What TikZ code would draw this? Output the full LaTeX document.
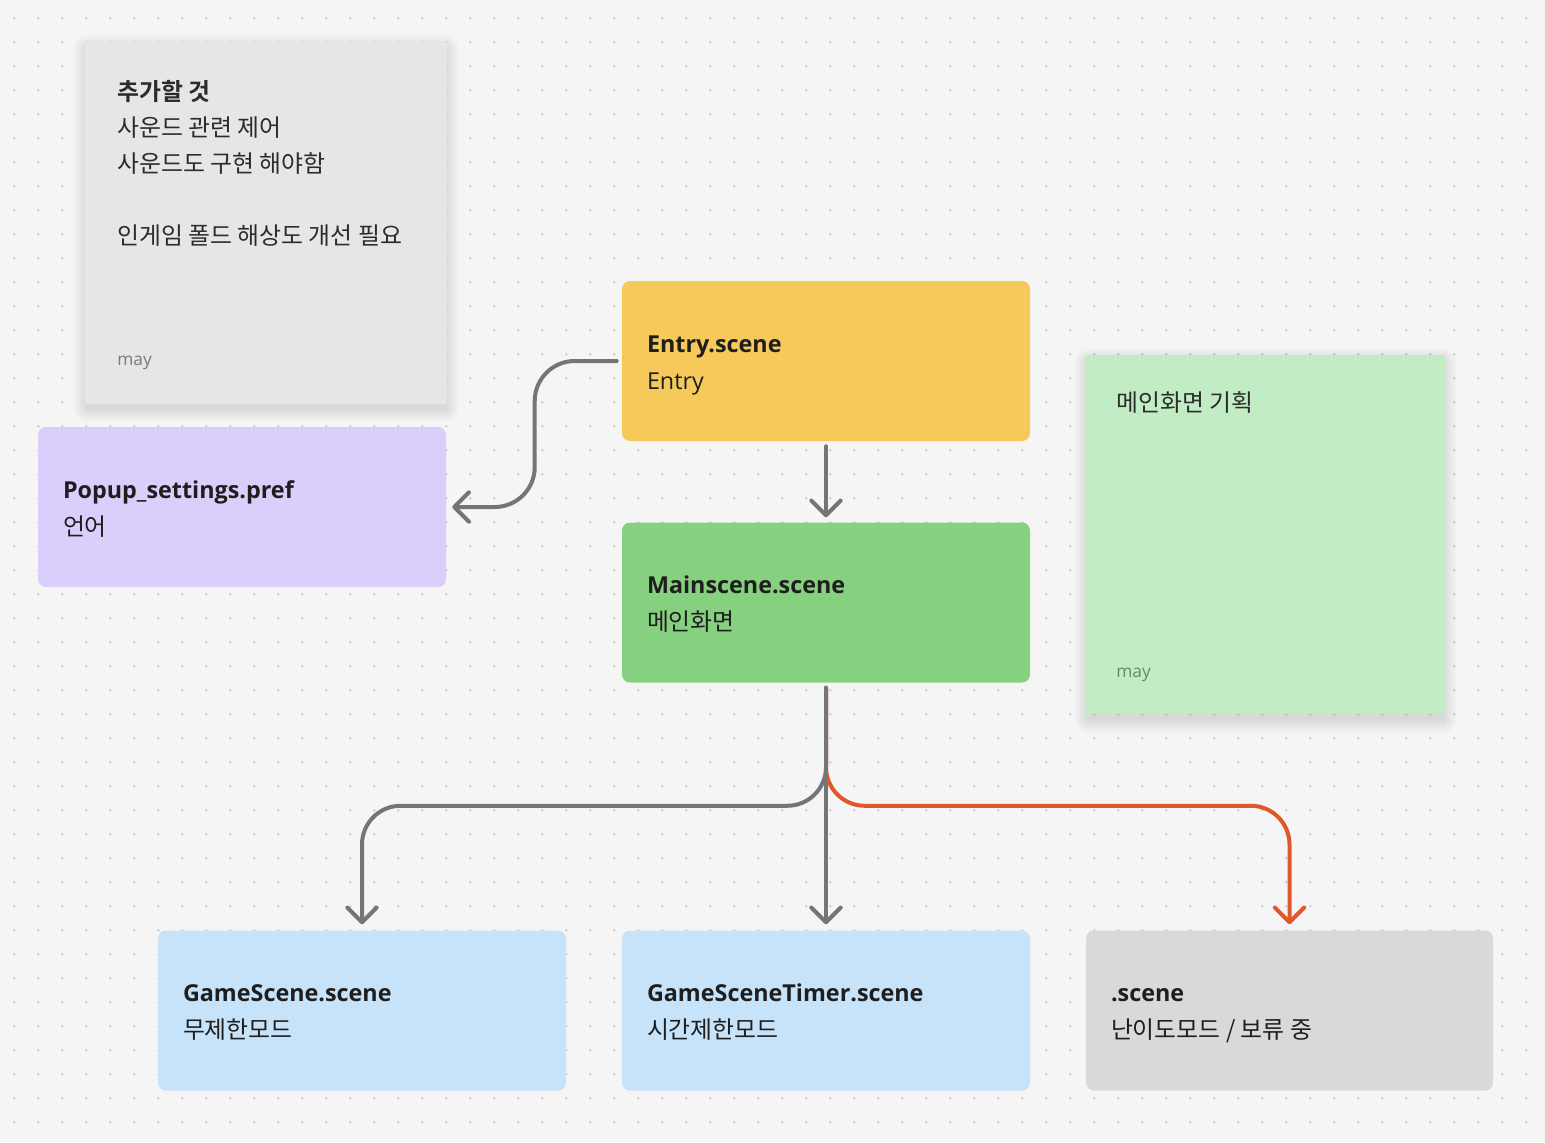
\documentclass[tikz,border=0pt]{standalone}
\usepackage{fontspec}
\setmainfont{Open Sans}
\newfontfamily\kr{Noto Sans CJK KR}[BoldFont={Noto Sans CJK KR Bold}]
\usetikzlibrary{arrows.meta}
\definecolor{bgc}{HTML}{F5F5F5}
\definecolor{dotc}{HTML}{C9C9C9}
\definecolor{yel}{HTML}{F6C95B}
\definecolor{pur}{HTML}{DACEFB}
\definecolor{grn}{HTML}{85D17F}
\definecolor{lblue}{HTML}{C7E3FA}
\definecolor{gbox}{HTML}{D9D9D9}
\definecolor{sgray}{HTML}{E6E6E6}
\definecolor{sgreen}{HTML}{C2ECC4}
\definecolor{txt}{HTML}{1E1E1E}
\definecolor{ntxt}{HTML}{2C2C2C}
\definecolor{conncol}{HTML}{757575}
\definecolor{redc}{HTML}{E0572A}
\definecolor{maygray}{HTML}{7A7A7A}
\definecolor{maygreen}{HTML}{6A8A6B}
\tikzset{
  box/.style={rounded corners=6pt, minimum width=306pt, minimum height=120pt, inner sep=0pt},
  ttl/.style={anchor=base west, inner sep=0pt, text=txt, font=\fontsize{17.5}{21}\selectfont\bfseries},
  sub/.style={anchor=base west, inner sep=0pt, text=txt, font=\fontsize{17.5}{21}\selectfont},
  subkr/.style={anchor=base west, inner sep=0pt, text=txt, font=\kr\fontsize{17.9}{21}\selectfont},
  sticky/.style={minimum width=#1, minimum height=#1, inner sep=0pt},
  conn/.style={draw=conncol, line width=3pt, line cap=round, line join=round,
    -{Straight Barb[length=11pt,width=22pt,line cap=round,line join=round]}},
  krtxt/.style={font=\kr\fontsize{17.9}{27}\selectfont},
  maytxt/.style={font=\fontsize{13}{16}\selectfont, anchor=base west, inner sep=0pt}
}
\begin{document}
\begin{tikzpicture}[x=0.75pt,y=-0.75pt]
\fill[bgc] (0,0) rectangle (1545,1142);
\useasboundingbox (0,0) rectangle (1545,1142);
% dot grid
\foreach \i in {0,...,64}{
  \foreach \j in {0,...,46}{
    \fill[dotc] ({14.3+24*\i},{18.3+24*\j}) circle (1pt);
  }
}
% sticky shadows
\foreach \k in {1,...,14}{
  \fill[black,opacity=0.006,rounded corners={\k*0.75pt}] ({85-\k+2},{42-\k+7}) rectangle ({447+\k-2},{403+\k+5});
  \fill[black,opacity=0.006,rounded corners={\k*0.75pt}] ({1086-\k+2},{355-\k+7}) rectangle ({1445+\k-2},{714+\k+5});
}
% sticky notes
\node[sticky=271.5pt, fill=sgray] (note1) at (266,222.5) {};
\node[sticky=269.25pt, fill=sgreen] (note2) at (1265.5,534.5) {};
\node[krtxt, anchor=north west, align=left, inner sep=0pt, text=ntxt] (note1txt) at (117,80)
  {\bfseries 추가할 것\\사운드 관련 제어\\사운드도 구현 해야함\\[27pt]인게임 폴드 해상도 개선 필요};
\node[maytxt, text=maygray] (note1may) at (117,365) {may};
\node[krtxt, anchor=base west, inner sep=0pt, text=ntxt] (note2txt) at (1116,411) {메인화면 기획};
\node[maytxt, text=maygreen] (note2may) at (1116,677) {may};
% boxes
\node[box, fill=yel] (entry) at (826,361) {};
\node[box, fill=pur] (popup) at (242,507) {};
\node[box, fill=grn] (main) at (826,602.5) {};
\node[box, fill=lblue] (game) at (362,1010.5) {};
\node[box, fill=lblue] (timer) at (826,1010.5) {};
\node[box, fill=gbox, minimum width=305.25pt] (scn) at (1289.5,1010.5) {};
% box labels
\node[ttl] (entryT) at ([xshift=18.75pt,yshift=-53.6pt]entry.north west) {Entry.scene};
\node[sub] (entryS) at ([xshift=18.75pt,yshift=-81.4pt]entry.north west) {Entry};
\node[ttl] (popupT) at ([xshift=18.75pt,yshift=-53.6pt]popup.north west) {Popup\_settings.pref};
\node[subkr] (popupS) at ([xshift=18.75pt,yshift=-81.4pt]popup.north west) {언어};
\node[ttl] (mainT) at ([xshift=18.75pt,yshift=-53.6pt]main.north west) {Mainscene.scene};
\node[subkr] (mainS) at ([xshift=18.75pt,yshift=-81.4pt]main.north west) {메인화면};
\node[ttl] (gameT) at ([xshift=18.75pt,yshift=-53.6pt]game.north west) {GameScene.scene};
\node[subkr] (gameS) at ([xshift=18.75pt,yshift=-81.4pt]game.north west) {무제한모드};
\node[ttl] (timerT) at ([xshift=18.75pt,yshift=-53.6pt]timer.north west) {GameSceneTimer.scene};
\node[subkr] (timerS) at ([xshift=18.75pt,yshift=-81.4pt]timer.north west) {시간제한모드};
\node[ttl] (scnT) at ([xshift=18.75pt,yshift=-53.6pt]scn.north west) {.scene};
\node[subkr] (scnS) at ([xshift=18.75pt,yshift=-81.4pt]scn.north west) {난이도모드 / 보류 중};
% connectors
\draw[conn, rounded corners=30pt] ([xshift=-3.75pt]entry.west) -- ++(-82,0) |- ([xshift=4.5pt]popup.east);
\draw[conn] ([yshift=-3.75pt]entry.south) -- ([yshift=3.75pt]main.north);
\draw[conn, draw=redc, rounded corners=29pt] ([yshift=-3.75pt]main.south) -- ++(0,118) -| ([yshift=4.5pt]scn.north);
\draw[conn, rounded corners=29pt] ([yshift=-3.75pt]main.south) -- ++(0,118) -| ([yshift=4.5pt]game.north);
\draw[conn] ([yshift=-3.75pt]main.south) -- ([yshift=4.5pt]timer.north);
\end{tikzpicture}
\end{document}
